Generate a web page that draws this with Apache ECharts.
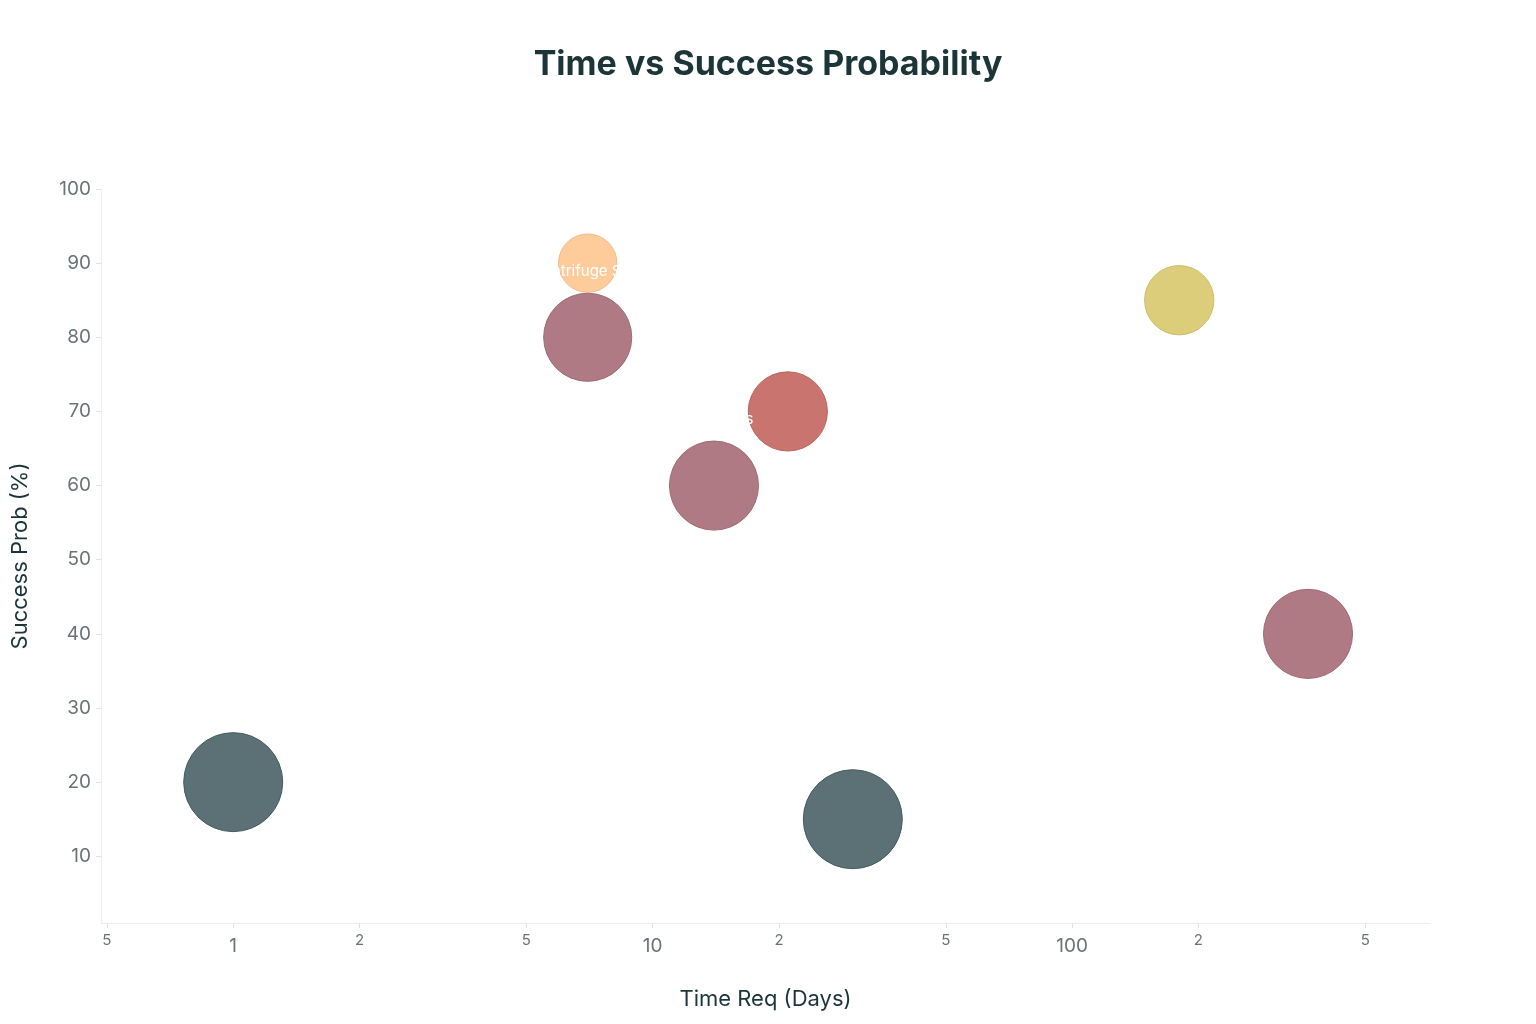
<!DOCTYPE html>
<html>
<head>
<meta charset="utf-8">
<script src="https://cdn.jsdelivr.net/npm/echarts@6/dist/echarts.min.js"></script>
<style>
html,body{margin:0;padding:0;background:#fff;}
#chart{width:1536px;height:1024px;}
</style>
</head>
<body>
<div id="chart"></div>
<script>
// ---- data ----
const methods   = ['Baseline', 'Standard Protocol', 'Centrifuge Spin', 'Spin Tubes', 'Gradient Prep', 'Long Culture', 'Seq Assay', 'Full Screen'];
const timeDays  = [1, 7, 7, 14, 21, 30, 180, 365];
const successPct = [20, 90, 80, 60, 70, 15, 85, 40];
const impact    = [10, 5.9, 8.9, 9, 8, 10, 7, 9];
const groups    = ['slate', 'peach', 'maroon', 'maroon', 'red', 'slate', 'yellow', 'maroon'];
const yTicks    = [10, 20, 30, 40, 50, 60, 70, 80, 90, 100];
const xTicks    = [0.5, 1, 2, 5, 10, 20, 50, 100, 200, 500];
const xTickLabels = ['5', '1', '2', '5', '10', '2', '5', '100', '2', '5'];
const xMajor    = [1, 10, 100];

const palette = {
  slate:  {fill: '#5b7175', border: '#485b5f'},
  peach:  {fill: '#fecb9b', border: '#f3bb88'},
  maroon: {fill: '#b07a84', border: '#9e6a74'},
  red:    {fill: '#c9746e', border: '#b8645e'},
  yellow: {fill: '#dccd7a', border: '#cdbd68'}
};

const lg = v => Math.log10(v);
const xMin = lg(0.484), xMax = lg(713);

const data = timeDays.map((d, i) => ({
  name: methods[i],
  value: [lg(d), successPct[i], impact[i]],
  itemStyle: {color: palette[groups[i]].fill, borderColor: palette[groups[i]].border, borderWidth: 1, opacity: 1}
}));

const chart = echarts.init(document.getElementById('chart'));
chart.setOption({
  backgroundColor: '#ffffff',
  animation: false,
  title: {
    text: 'Time vs Success Probability',
    left: 'center', top: 43,
    textStyle: {fontFamily: 'Inter', fontSize: 34, fontWeight: 'bold', color: '#1c3539'}
  },
  grid: {left: 101, right: 106, top: 189, bottom: 101},
  xAxis: {
    type: 'value', min: xMin, max: xMax,
    name: 'Time Req (Days)', nameLocation: 'middle', nameGap: 65,
    nameTextStyle: {fontFamily: 'Inter', fontSize: 22, color: '#1c3539'},
    splitLine: {show: false},
    axisLine: {show: true, onZero: false, lineStyle: {color: '#eceef0', width: 1}},
    axisTick: {show: true, length: 5, lineStyle: {color: '#e0e3e6'}, customValues: xTicks.map(lg)},
    axisLabel: {
      customValues: xTicks.map(lg),
      margin: 10,
      formatter: function (v) {
        let best = 0, bd = 1e9;
        xTicks.forEach((t, i) => { const dd = Math.abs(lg(t) - v); if (dd < bd) { bd = dd; best = i; } });
        const isMajor = xMajor.indexOf(xTicks[best]) >= 0;
        return isMajor ? '{maj|' + xTickLabels[best] + '}' : '{min|' + xTickLabels[best] + '}';
      },
      rich: {
        maj: {fontFamily: 'Inter', fontSize: 19, color: '#6b7377', padding: [4, 0, 0, 0]},
        min: {fontFamily: 'Inter', fontSize: 15, color: '#6b7377', padding: [0, 0, 2, 0]}
      }
    }
  },
  yAxis: {
    type: 'value', min: 1, max: 100,
    name: 'Success Prob (%)', nameLocation: 'middle', nameGap: 70, nameRotate: 90,
    nameTextStyle: {fontFamily: 'Inter', fontSize: 22, color: '#1c3539'},
    splitLine: {show: false},
    axisLine: {show: true, onZero: false, lineStyle: {color: '#eceef0', width: 1}},
    axisTick: {show: true, length: 5, lineStyle: {color: '#e0e3e6'}, customValues: yTicks},
    axisLabel: {customValues: yTicks, margin: 10, fontFamily: 'Inter', fontSize: 19, color: '#6b7377'}
  },
  series: [{
    type: 'scatter',
    data: data,
    symbolSize: v => v[2] * 9.9,
    label: {
      show: true, position: 'top', distance: 14,
      formatter: p => p.name,
      fontFamily: 'Inter', fontSize: 15, color: '#ffffff'
    },
    labelLayout: {hideOverlap: false},
    emphasis: {disabled: true}
  }]
});
</script>
</body>
</html>
